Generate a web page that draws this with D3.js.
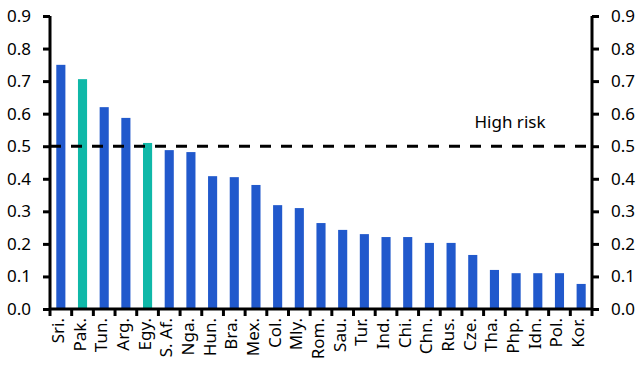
<!DOCTYPE html>
<html><head><meta charset="utf-8">
<script src="https://cdn.jsdelivr.net/npm/d3@7"></script>
<style>body{margin:0;background:#fff}svg text{font-family:"Noto Sans","Open Sans",sans-serif;fill:#000}</style>
</head><body><svg id="c" width="641" height="366"></svg>
<script>
const categories = ["Sri.","Pak.","Tun.","Arg.","Egy.","S. Af.","Nga.","Hun.","Bra.","Mex.","Col.","Mly.","Rom.","Sau.","Tur.","Ind.","Chi.","Chn.","Rus.","Cze.","Tha.","Php.","Idn.","Pol.","Kor."];
const values = [0.75,0.706,0.62,0.587,0.51,0.488,0.482,0.408,0.405,0.381,0.319,0.31,0.264,0.243,0.23,0.221,0.221,0.203,0.203,0.166,0.12,0.11,0.11,0.11,0.077];
const highlighted = ["Pak.","Egy."];
const yTicks = [0,0.1,0.2,0.3,0.4,0.5,0.6,0.7,0.8,0.9];
const threshold = 0.5;
const thresholdLabel = "High risk";

const svg = d3.select("#c");
const L = 50, R = 592, T = 16, B = 309;
const FONT = '"Noto Sans","Open Sans",sans-serif';
const x = d3.scaleBand().domain(categories).range([L, R]).paddingInner(0.58).paddingOuter(0.29);
const xb = d3.scaleBand().domain(categories).range([L, R]);
const y = d3.scaleLinear().domain([0, 0.9]).range([B, T]);

svg.append("g").selectAll("rect").data(categories).join("rect")
  .attr("x", d => x(d)).attr("width", x.bandwidth())
  .attr("y", (d,i) => y(values[i])).attr("height", (d,i) => B - y(values[i]))
  .attr("fill", d => highlighted.includes(d) ? "#0fb8a8" : "#2159cc");

svg.append("line").attr("x1", L).attr("x2", R).attr("y1", y(threshold)).attr("y2", y(threshold))
  .attr("stroke", "#000").attr("stroke-width", 3).attr("stroke-dasharray", "11,10");
svg.append("text").attr("x", 510).attr("y", y(threshold) - 18).attr("text-anchor", "middle")
  .attr("font-size", 17).text(thresholdLabel);

const fmt = d3.format(".1f");
const yl = svg.append("g").attr("transform", `translate(${L},0)`)
  .call(d3.axisLeft(y).tickValues(yTicks).tickFormat(fmt).tickSize(7).tickPadding(12));
const yr = svg.append("g").attr("transform", `translate(${R},0)`)
  .call(d3.axisRight(y).tickValues(yTicks).tickFormat(fmt).tickSize(7).tickPadding(12));
[yl, yr].forEach(g => {
  g.select(".domain").attr("stroke-width", 3).attr("d", `M0,${T}V${B}`);
  g.selectAll(".tick line").attr("stroke-width", 3);
  g.selectAll("text").attr("font-size", 17).style("font-family", FONT);
});

// x axis
const xg = svg.append("g");
xg.append("line").attr("x1", L).attr("x2", R).attr("y1", B).attr("y2", B).attr("stroke", "#000").attr("stroke-width", 3);
xg.selectAll("line.t").data(categories.concat(["_end"])).join("line").attr("class","t")
  .attr("x1", (d,i) => i < categories.length ? xb(d) : R).attr("x2", (d,i) => i < categories.length ? xb(d) : R)
  .attr("y1", B).attr("y2", B + 7).attr("stroke", "#000").attr("stroke-width", 3);
xg.selectAll("text").data(categories).join("text")
  .attr("transform", d => `translate(${x(d) + x.bandwidth()/2 + 3},${B + 9}) rotate(-90)`)
  .attr("text-anchor", "end").attr("font-size", 17).text(d => d);
</script></body></html>
